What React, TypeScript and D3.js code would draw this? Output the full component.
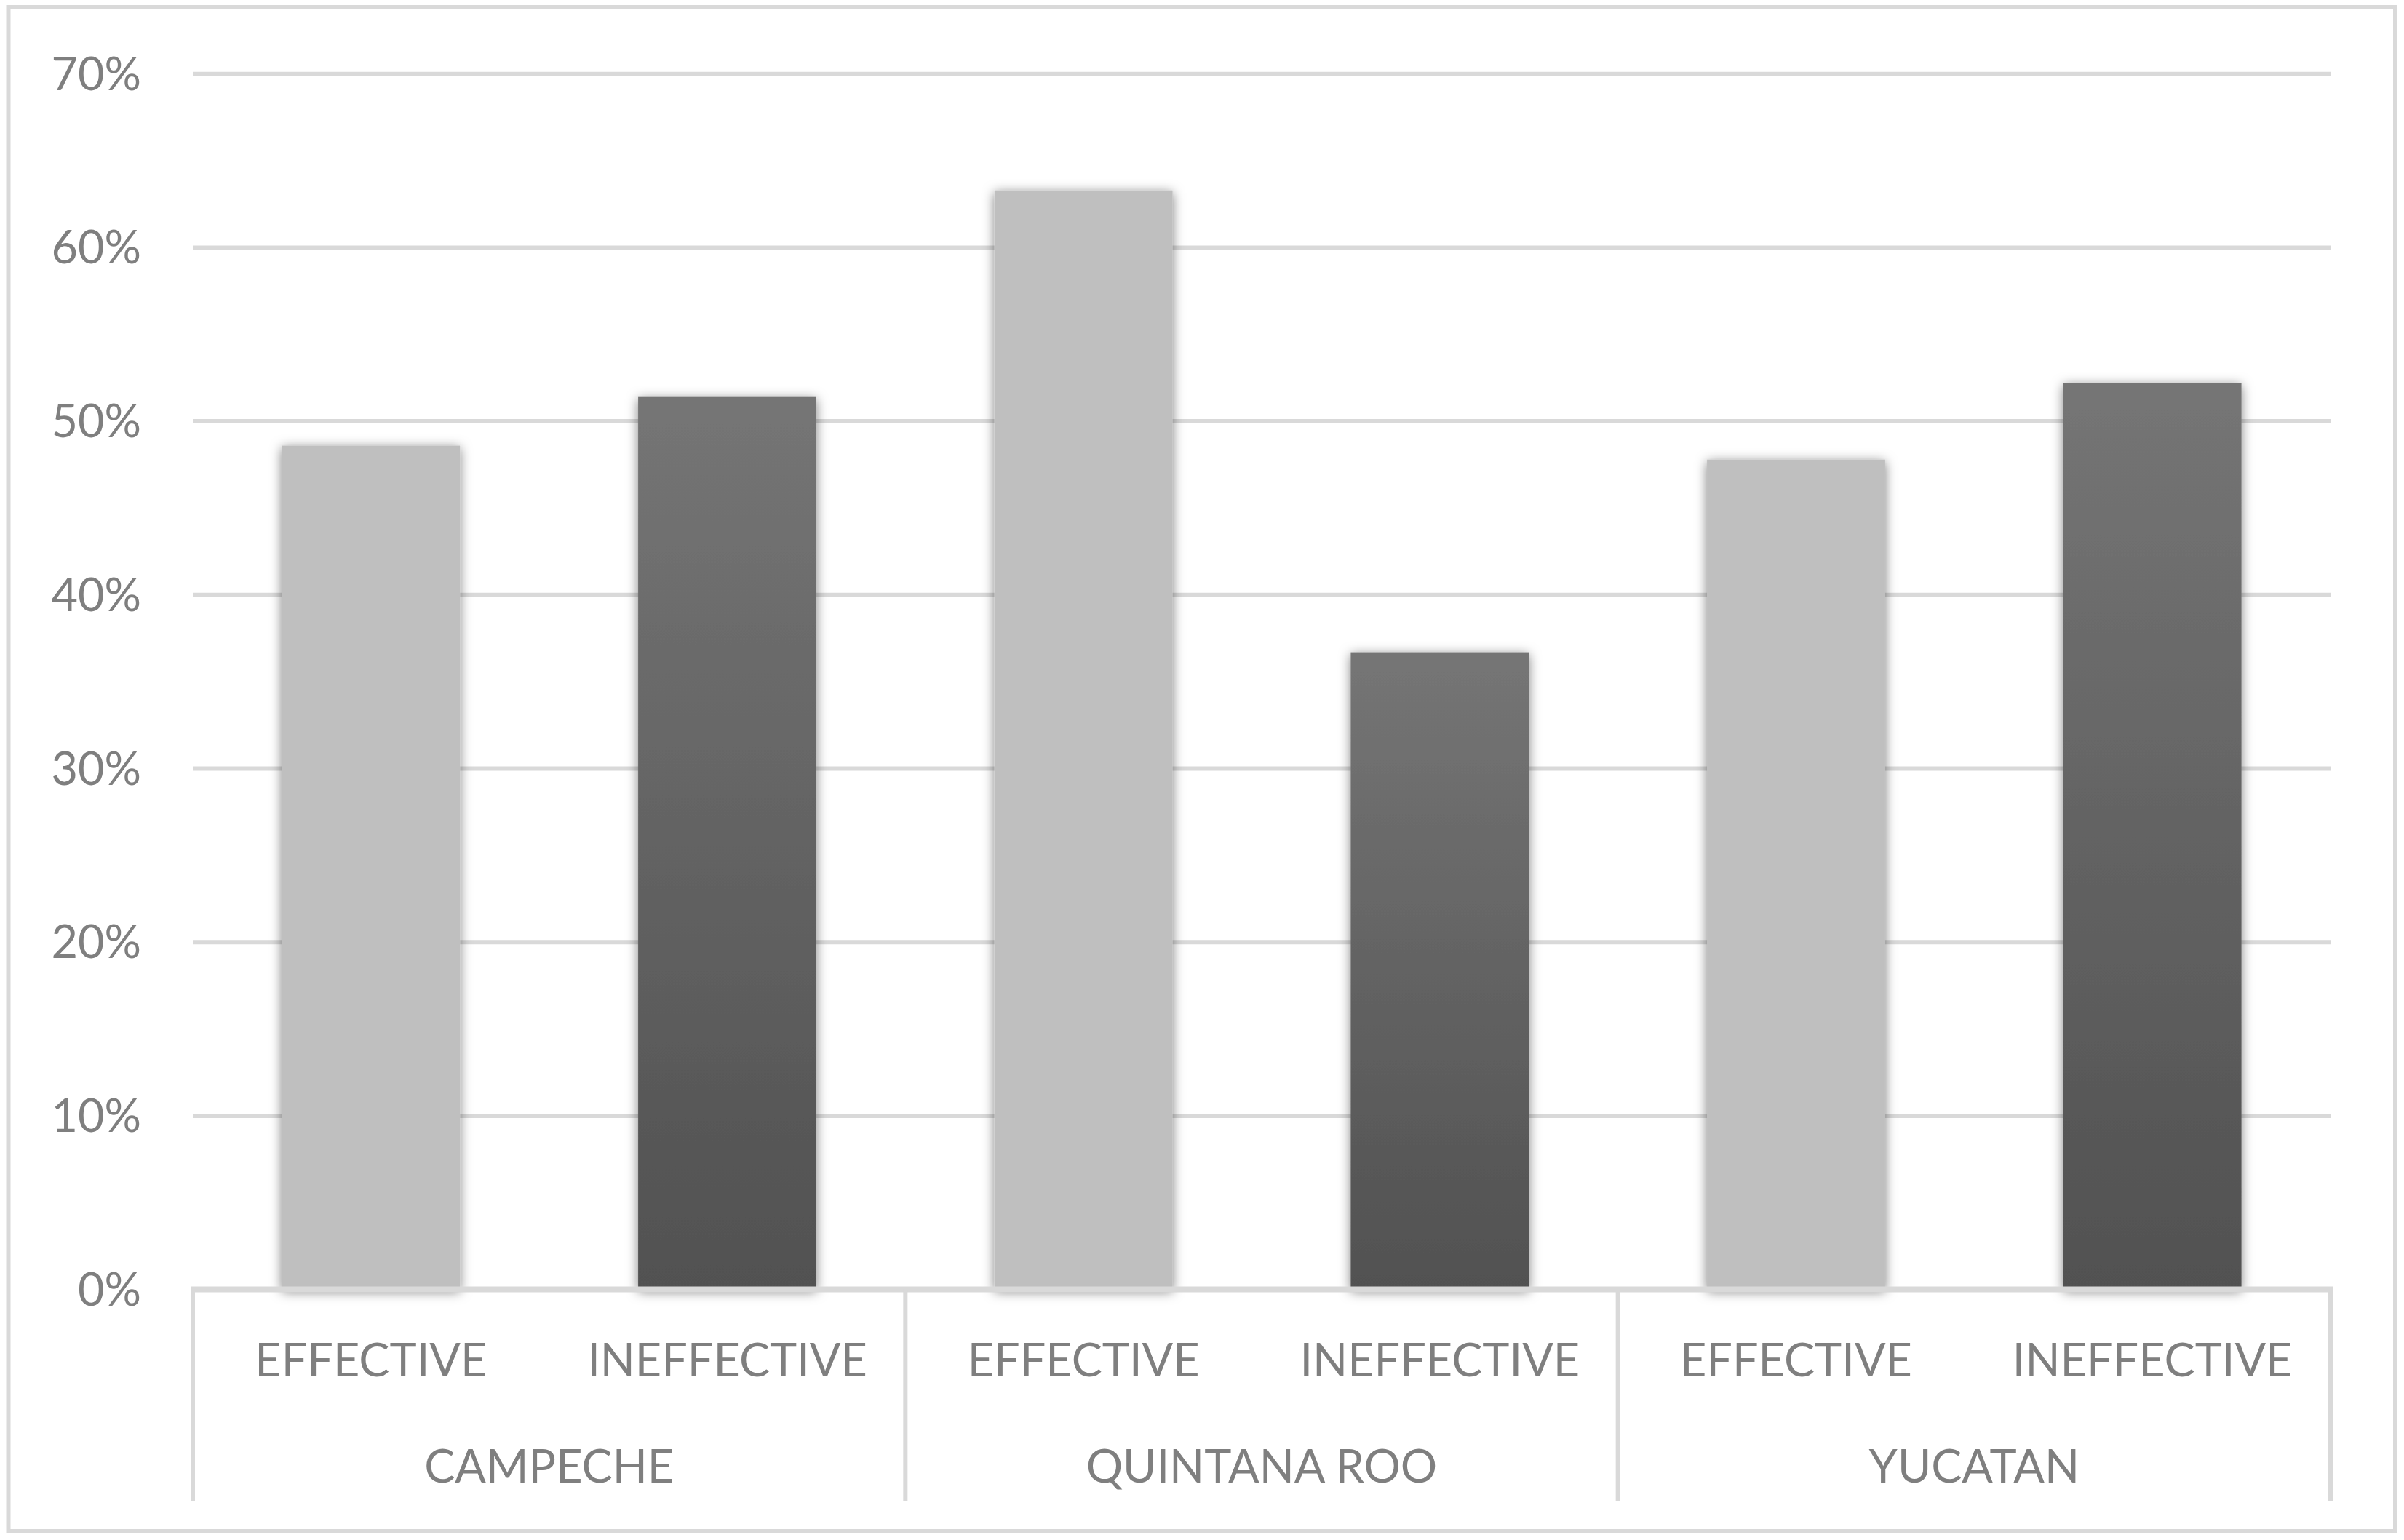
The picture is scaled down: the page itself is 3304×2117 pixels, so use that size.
import React from "react";
import * as d3 from "d3";

const states = ["CAMPECHE", "QUINTANA ROO", "YUCATAN"];
const series = ["EFFECTIVE", "INEFFECTIVE"];
const effectiveValues = [0.486, 0.633, 0.478];
const ineffectiveValues = [0.514, 0.367, 0.522];
const yTicks = [0, 0.1, 0.2, 0.3, 0.4, 0.5, 0.6, 0.7];

const W = 3304;
const H = 2117;

export default function App() {
  const left = 265;
  const right = 3203;
  const top = 101.7;
  const bottom = 1772.6;

  const y = d3.scaleLinear().domain([0, 0.7]).range([bottom, top]);
  const xGroup = d3.scaleBand<string>().domain(states).range([left, right]).padding(0);
  const xSub = d3.scaleBand<string>().domain(series).range([0, xGroup.bandwidth()]).paddingInner(0).paddingOuter(0);
  const barW = xSub.bandwidth() * 0.5;
  const fmt = d3.format(".0%");

  const rows = states.flatMap((s, i) => [
    { state: s, series: series[0], value: effectiveValues[i] },
    { state: s, series: series[1], value: ineffectiveValues[i] },
  ]);

  const font = "Lato, 'Open Sans', sans-serif";
  const fs = 63;
  const textColor = "#7f7f7f";
  const lineColor = "#d9d9d9";

  return (
    <svg
      width={W}
      height={H}
      style={{ position: "absolute", left: 0, top: 0, background: "#fff" }}
    >
      <defs>
        <linearGradient id="darkGrad" x1="0" y1="0" x2="0" y2="1">
          <stop offset="0" stopColor="#757575" />
          <stop offset="1" stopColor="#515151" />
        </linearGradient>
        <filter id="shadow" x="-30%" y="-10%" width="160%" height="120%">
          <feDropShadow dx="0" dy="3" stdDeviation="8" floodColor="#000" floodOpacity="0.5" />
        </filter>
      </defs>
      <rect x={0} y={0} width={W} height={H} fill="#fff" />
      <rect x={11.5} y={10} width={3280.5} height={2095} fill="none" stroke={lineColor} strokeWidth={6} />

      {yTicks.slice(1).map((t) => (
        <line key={t} x1={left} x2={right} y1={y(t)} y2={y(t)} stroke={lineColor} strokeWidth={6} />
      ))}

      {rows.map((r) => {
        const cx = (xGroup(r.state) as number) + (xSub(r.series) as number) + xSub.bandwidth() / 2;
        return (
          <rect
            key={r.state + r.series}
            x={cx - barW / 2}
            y={y(r.value)}
            width={barW}
            height={y(0) - y(r.value)}
            fill={r.series === "EFFECTIVE" ? "#bfbfbf" : "url(#darkGrad)"}
            filter="url(#shadow)"
          />
        );
      })}

      <line x1={left - 3} x2={right + 3} y1={y(0)} y2={y(0)} stroke={lineColor} strokeWidth={8} />
      {[...states.map((s) => xGroup(s) as number), right].map((xv, i) => (
        <line key={i} x1={xv} x2={xv} y1={y(0)} y2={2064} stroke={lineColor} strokeWidth={6} />
      ))}

      {yTicks.map((t) => (
        <text
          key={t}
          x={194}
          y={y(t) + 22}
          textAnchor="end"
          fontFamily={font}
          fontSize={fs}
          fill={textColor}
        >
          {fmt(t)}
        </text>
      ))}

      {rows.map((r) => {
        const cx = (xGroup(r.state) as number) + (xSub(r.series) as number) + xSub.bandwidth() / 2;
        return (
          <text
            key={"l" + r.state + r.series}
            x={cx}
            y={1892}
            textAnchor="middle"
            fontFamily={font}
            fontSize={fs}
            fill={textColor}
          >
            {r.series}
          </text>
        );
      })}

      {states.map((s) => (
        <text
          key={"g" + s}
          x={(xGroup(s) as number) + xGroup.bandwidth() / 2}
          y={2038}
          textAnchor="middle"
          fontFamily={font}
          fontSize={fs}
          fill={textColor}
        >
          {s}
        </text>
      ))}
    </svg>
  );
}
